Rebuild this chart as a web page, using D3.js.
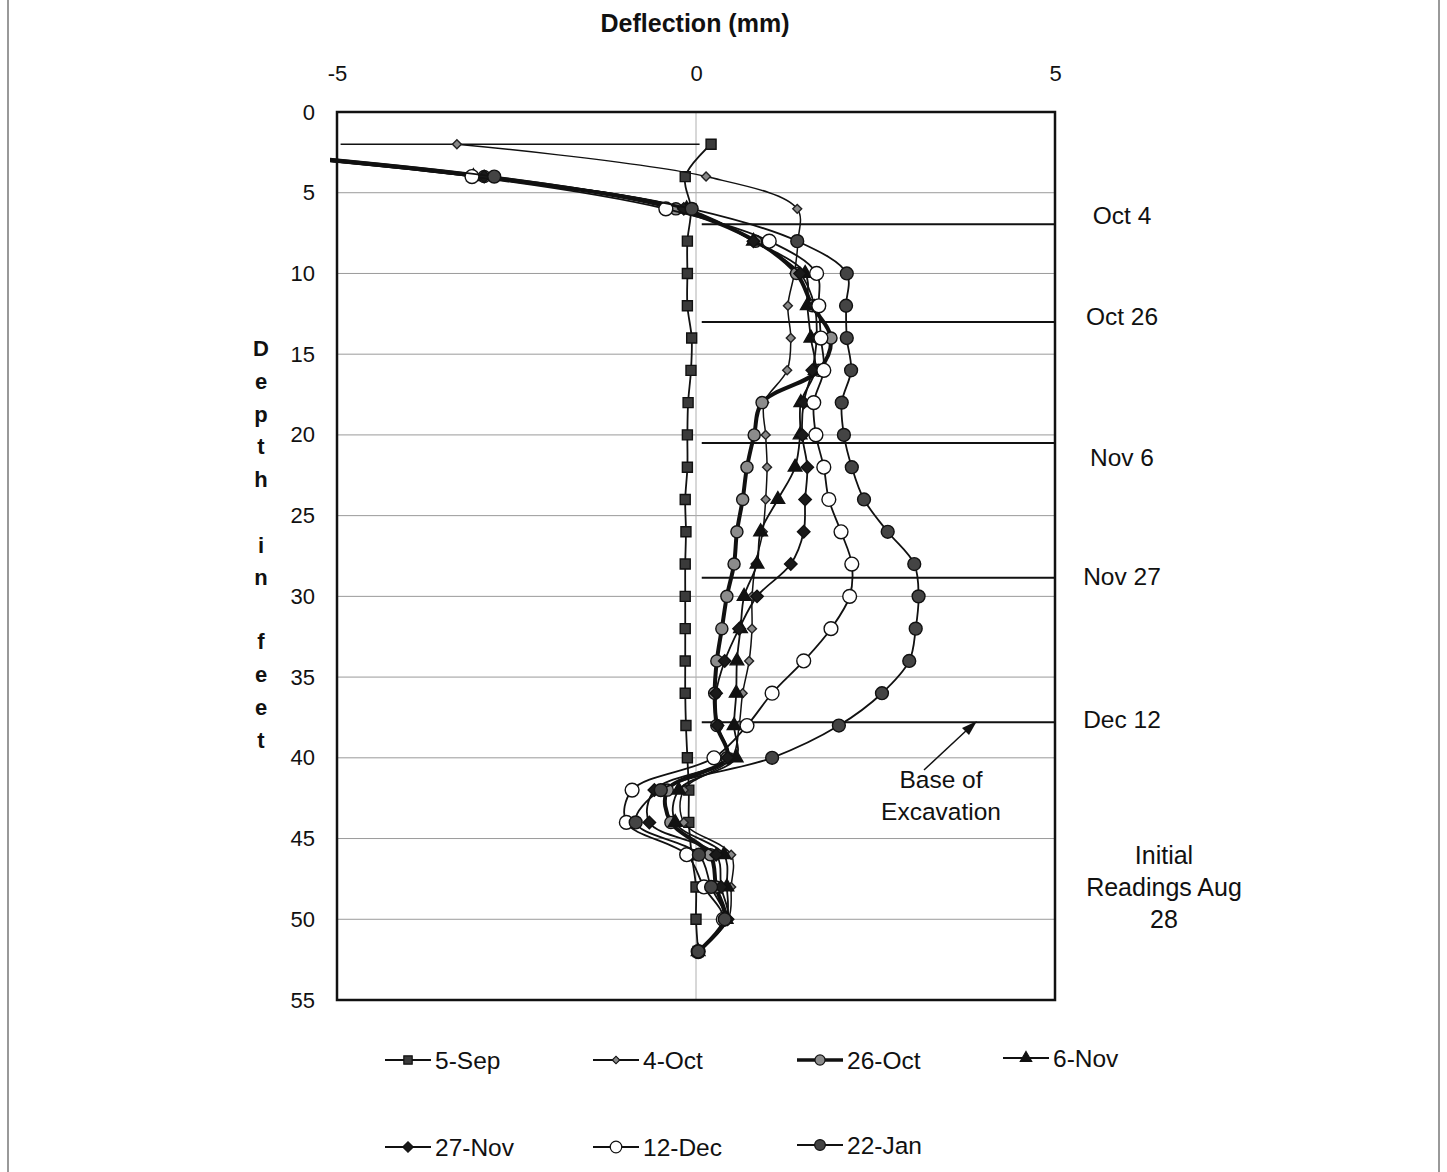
<!DOCTYPE html>
<html><head><meta charset="utf-8">
<script src="https://cdn.jsdelivr.net/npm/d3@7/dist/d3.min.js"></script>
<style>
html,body{margin:0;padding:0;background:#fff;}
svg{display:block;font-family:"Liberation Sans",Arial,sans-serif;}
</style></head>
<body>
<svg id="chart" width="1447" height="1172"></svg>
<script>
// ---- data ----
const depths = [2,4,6,8,10,12,14,16,18,20,22,24,26,28,30,32,34,36,38,40,42,44,46,48,50,52];
const seriesNames = ["5-Sep","4-Oct","26-Oct","6-Nov","27-Nov","12-Dec","22-Jan"];
const sep5  = [0.21,-0.15,-0.07,-0.12,-0.12,-0.12,-0.06,-0.07,-0.11,-0.12,-0.12,-0.15,-0.14,-0.15,-0.15,-0.15,-0.15,-0.15,-0.14,-0.12,-0.10,-0.10,-0.06,0.00,0.00,0.03];
const oct4  = [-3.33,0.14,1.41,1.42,1.37,1.28,1.32,1.27,0.95,0.97,0.99,0.97,0.93,0.83,0.78,0.78,0.74,0.65,0.60,0.50,-0.17,-0.17,0.49,0.49,0.45,0.03];
const oct26 = [-7.5,-2.95,-0.28,0.83,1.40,1.62,1.88,1.71,0.92,0.81,0.71,0.65,0.57,0.53,0.43,0.36,0.29,0.26,0.29,0.43,-0.40,-0.35,0.20,0.28,0.40,0.03];
const nov6  = [-7.6,-3.10,-0.13,0.80,1.52,1.55,1.60,1.66,1.46,1.45,1.38,1.14,0.90,0.85,0.67,0.62,0.57,0.56,0.53,0.56,-0.24,-0.29,0.39,0.43,0.42,0.03];
const nov27 = [-7.4,-2.95,-0.17,0.80,1.45,1.65,1.68,1.62,1.50,1.48,1.55,1.52,1.50,1.32,0.85,0.60,0.40,0.28,0.30,0.44,-0.58,-0.65,0.28,0.35,0.44,0.03];
const dec12 = [-7.8,-3.12,-0.42,1.02,1.68,1.71,1.74,1.78,1.64,1.67,1.78,1.85,2.02,2.17,2.14,1.88,1.50,1.06,0.71,0.25,-0.89,-0.97,-0.13,0.11,0.38,0.03];
const jan22 = [-7.3,-2.81,-0.06,1.41,2.10,2.09,2.10,2.16,2.03,2.06,2.17,2.34,2.67,3.04,3.10,3.06,2.97,2.59,1.99,1.06,-0.49,-0.84,0.04,0.21,0.40,0.03];
const xTicks = [-5,0,5];
const yTicks = [0,5,10,15,20,25,30,35,40,45,50,55];
const excavLabels = ["Oct 4","Oct 26","Nov 6","Nov 27","Dec 12"];
const excavDepths = [6.95,13.0,20.5,28.85,37.8];
const excavLabelDepths = [6.45,12.7,21.4,28.8,37.65];
const initialLineDepth = 2;

// ---- layout ----
const svg = d3.select("#chart");
const x = d3.scaleLinear().domain([-5,5]).range([337,1055]);
const y = d3.scaleLinear().domain([0,55]).range([112,1000]);

// outer frame
svg.append("line").attr("x1",8).attr("x2",8).attr("y1",0).attr("y2",1172).attr("stroke","#555").attr("stroke-width",1.2);
svg.append("line").attr("x1",1439).attr("x2",1439).attr("y1",0).attr("y2",1172).attr("stroke","#555").attr("stroke-width",1.2);

svg.append("defs").append("clipPath").attr("id","plotclip")
  .append("rect").attr("x",x(-5)-7).attr("y",y(0)).attr("width",x(5)-x(-5)+7).attr("height",y(55)-y(0));

// gridlines
svg.append("g").selectAll("line").data(yTicks.filter(d=>d>0&&d<55)).join("line")
  .attr("x1",x(-5)).attr("x2",x(5)).attr("y1",d=>y(d)).attr("y2",d=>y(d))
  .attr("stroke","#9a9a9a").attr("stroke-width",1);
// zero line
svg.append("line").attr("x1",x(0)).attr("x2",x(0)).attr("y1",y(0)).attr("y2",y(55))
  .attr("stroke","#b0b0b0").attr("stroke-width",1);

// excavation lines
svg.append("g").selectAll("line").data(excavDepths).join("line")
  .attr("x1",x(0.08)).attr("x2",x(5)).attr("y1",d=>y(d)).attr("y2",d=>y(d))
  .attr("stroke","#111").attr("stroke-width",2);
svg.append("line").attr("x1",x(-4.95)).attr("x2",x(0.05)).attr("y1",y(initialLineDepth)).attr("y2",y(initialLineDepth))
  .attr("stroke","#111").attr("stroke-width",1.6);

// series
const seriesData = [sep5,oct4,oct26,nov6,nov27,dec12,jan22];
const styles = [
  {sym:d3.symbolSquare, size:100, fill:"#3a3a3a", stroke:"#111", lw:1.8, rot:0},
  {sym:d3.symbolSquare, size:40, fill:"#888", stroke:"#222", lw:1.5, rot:45},
  {sym:d3.symbolCircle, size:115, fill:"#8c8c8c", stroke:"#111", lw:4, rot:0},
  {sym:d3.symbolTriangle, size:80, fill:"#111", stroke:"#111", lw:1.8, rot:0},
  {sym:d3.symbolSquare, size:78, fill:"#1a1a1a", stroke:"#111", lw:1.8, rot:45},
  {sym:d3.symbolCircle, size:150, fill:"#fff", stroke:"#111", lw:1.8, rot:0},
  {sym:d3.symbolCircle, size:130, fill:"#444", stroke:"#111", lw:1.8, rot:0}
];
const lineGen = d3.line().x(d=>x(d[0])).y(d=>y(d[1])).curve(d3.curveCatmullRom.alpha(0.5));
const plotG = svg.append("g").attr("clip-path","url(#plotclip)");
seriesData.forEach((vals,i)=>{
  const pts = vals.map((v,j)=>[v,depths[j]]);
  const st = styles[i];
  plotG.append("path").attr("d",lineGen(pts)).attr("fill","none")
    .attr("stroke","#111").attr("stroke-width",st.lw).attr("stroke-linejoin","round");
  plotG.append("g").selectAll("path").data(pts.filter(p=>p[0]>=-5 && p[0]<=5)).join("path")
    .attr("d",d3.symbol().type(st.sym).size(st.size))
    .attr("transform",d=>`translate(${x(d[0])},${y(d[1])}) rotate(${st.rot})`)
    .attr("fill",st.fill).attr("stroke",st.stroke).attr("stroke-width",1.4);
});

// frame
svg.append("rect").attr("x",x(-5)).attr("y",y(0)).attr("width",x(5)-x(-5)).attr("height",y(55)-y(0))
  .attr("fill","none").attr("stroke","#111").attr("stroke-width",2.5);

// axes
const xAxis = svg.append("g").attr("transform",`translate(0,${y(0)})`)
  .call(d3.axisTop(x).tickValues(xTicks).tickSize(0).tickPadding(31).tickFormat(d=>String(d)));
xAxis.select(".domain").remove();
xAxis.selectAll("text").attr("font-size",22).attr("fill","#111").attr("font-family","Liberation Sans, Arial, sans-serif");

const yAxis = svg.append("g").attr("transform",`translate(${x(-5)},0)`)
  .call(d3.axisLeft(y).tickValues(yTicks).tickSize(0).tickPadding(22).tickFormat(d=>String(d)));
yAxis.select(".domain").remove();
yAxis.selectAll("text").attr("font-size",22).attr("fill","#111").attr("font-family","Liberation Sans, Arial, sans-serif");

// titles
svg.append("text").attr("x",695).attr("y",32).attr("text-anchor","middle")
  .attr("font-size",25).attr("font-weight","bold").attr("fill","#111").text("Deflection (mm)");
const ylab = "Depth in feet".split("");
const ylabY = [348,381,414,446,479,512,545,577,610,641,674,707,740];
svg.append("g").selectAll("text").data(ylab).join("text")
  .attr("x",261).attr("y",(d,i)=>ylabY[i]+8).attr("text-anchor","middle")
  .attr("font-size",22).attr("font-weight","bold").attr("fill","#111").text(d=>d);

// excavation labels
svg.append("g").selectAll("text").data(excavLabels).join("text")
  .attr("x",1122).attr("y",(d,i)=>y(excavLabelDepths[i])+8).attr("text-anchor","middle")
  .attr("font-size",24.5).attr("fill","#111").text(d=>d);

svg.append("text").attr("x",941).attr("y",788).attr("text-anchor","middle").attr("font-size",24.5).attr("fill","#111").text("Base of");
svg.append("text").attr("x",941).attr("y",820).attr("text-anchor","middle").attr("font-size",24.5).attr("fill","#111").text("Excavation");
["Initial","Readings Aug","28"].forEach((t,i)=>{
  svg.append("text").attr("x",1164).attr("y",864+i*32).attr("text-anchor","middle").attr("font-size",25).attr("fill","#111").text(t);
});
// arrow
svg.append("line").attr("x1",924).attr("y1",770).attr("x2",968).attr("y2",729).attr("stroke","#111").attr("stroke-width",1.5);
svg.append("path").attr("d","M977,721 L962,728 L969,735 Z").attr("fill","#111");

// legend
const legendPos = [[385,1060],[593,1060],[797,1060],[1003,1058],[385,1147],[593,1147],[797,1145]];
seriesNames.forEach((n,i)=>{
  const [lx,ly] = legendPos[i];
  const st = styles[i];
  const g = svg.append("g").attr("transform",`translate(${lx},${ly})`);
  g.append("line").attr("x1",0).attr("x2",46).attr("y1",0).attr("y2",0).attr("stroke","#111").attr("stroke-width",i===2?3.5:1.8);
  g.append("path").attr("d",d3.symbol().type(st.sym).size(st.size*0.7))
    .attr("transform",`translate(23,0) rotate(${st.rot})`).attr("fill",st.fill).attr("stroke","#111").attr("stroke-width",1.2);
  g.append("text").attr("x",50).attr("y",8.5).attr("font-size",24.5).attr("fill","#111").text(n);
});
</script>
</body></html>
